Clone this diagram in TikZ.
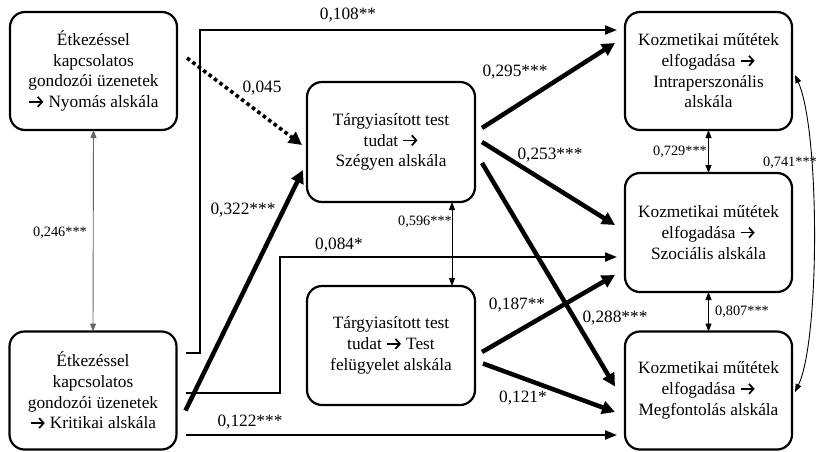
\documentclass[tikz,border=0pt]{standalone}
\usepackage{fontspec}
\setmainfont{Liberation Serif}
\usetikzlibrary{calc,arrows.meta}
\newcommand{\rarr}{\tikz[baseline={(0,-5.8pt)},x=1pt,y=1pt]\draw[line width=1.7pt,line cap=butt,-{Straight Barb[length=4.5pt,width=10pt,line width=1.7pt]}] (0,0) -- (14,0);}
\begin{document}
\begin{tikzpicture}[x=1pt,y=-1pt,
  box/.style={draw,line width=2.2pt,rounded corners=15pt,minimum width=167pt,minimum height=118pt,align=center,inner sep=2pt,outer sep=0pt,font=\fontsize{17.3}{20.7}\selectfont},
  lbl/.style={font=\fontsize{17.3}{20}\selectfont,inner sep=0pt},
  slbl/.style={font=\fontsize{14.3}{16}\selectfont,inner sep=0pt},
  mid/.style={line width=2pt,-{Triangle[length=12pt,width=9pt]}},
  thick path/.style={line width=4.5pt,-{Triangle[length=13pt,width=13pt]}},
  dotpath/.style={line width=3.6pt,dash pattern=on 3.6pt off 3.2pt,-{Triangle[length=13pt,width=13pt]}},
  thin both/.style={line width=0.9pt,{Triangle[length=8pt,width=6pt]}-{Triangle[length=8pt,width=6pt]}},
]
\useasboundingbox (0,0) rectangle (817,451);
\node[box] (A) at (93.5,71) {Étkezéssel\\kapcsolatos\\gondozói üzenetek\\\rarr{} Nyomás alskála};
\node[box] (B) at (93,390.5) {Étkezéssel\\kapcsolatos\\gondozói üzenetek\\\rarr{} Kritikai alskála};
\node[box,minimum width=168pt,minimum height=120pt] (C) at (391,142) {Tárgyiasított test\\tudat \rarr\\Szégyen alskála};
\node[box,minimum width=168pt,minimum height=119pt] (D) at (391,345.5) {Tárgyiasított test\\tudat \rarr{} Test\\felügyelet alskála};
\node[box] (E) at (708.5,71) {Kozmetikai műtétek\\elfogadása \rarr\\Intraperszonális\\alskála};
\node[box,minimum height=119pt] (F) at (708.5,232.5) {Kozmetikai műtétek\\elfogadása \rarr\\Szociális alskála};
\node[box] (G) at (708.5,390.5) {Kozmetikai műtétek\\elfogadása \rarr\\Megfontolás alskála};

% B -> E (0,108**)
\draw[mid] ($(B.east)+(9,-38)$) -| ($(A.east)+(23,-41)$) -- ($(E.west)+(-8,-41)$);
% A -> C dotted
\draw[dotpath] ($(A.east)+(10,-13)$) -- ($(C.west)+(-5,3)$);
% B -> C
\draw[thick path] ($(B.east)+(9,20)$) -- ($(C.west)+(-4,28)$);
% B -> F
\draw[mid] ($(B.east)+(9,2)$) -| ($(F.west)+(-345,24.5)$) -- ($(F.west)+(-8,24.5)$);
% B -> G
\draw[mid] ($(B.east)+(9,44.5)$) -- ($(G.west)+(-8,44.5)$);
% C -> E,F,G
\draw[thick path] ($(C.east)+(7,-14)$) -- ($(E.west)+(-10,-28)$);
\draw[thick path] ($(C.east)+(7,0)$) -- ($(F.west)+(-10,-7.5)$);
\draw[thick path] ($(C.east)+(7,21)$) -- ($(G.west)+(-10,-4)$);
% D -> F,G
\draw[thick path] ($(D.east)+(7,6.5)$) -- ($(F.west)+(-10,42.5)$);
\draw[thick path] ($(D.east)+(8,18)$) -- ($(G.west)+(-10,21.5)$);
% correlations
\draw[thin both,draw=gray!80!black] (A.south) -- (B.north);
\draw[thin both] ($(C.south)+(61,0)$) -- ($(D.north)+(61,0)$);
\draw[thin both] (E.south) -- (F.north);
\draw[thin both] (F.south) -- (G.north);
\draw[thin both] ($(E.east)+(3,4)$) .. controls ($(E.east)+(28,59)$) and ($(G.east)+(28,-50)$) .. ($(G.east)+(3,1.5)$);

% labels
\node[lbl] (l108) at (348,15) {0,108**};
\node[lbl] (l045) at (262,88) {0,045};
\node[lbl] (l322) at (243,210) {0,322***};
\node[lbl] (l084) at (339,245) {0,084*};
\node[lbl] (l122) at (250,422) {0,122***};
\node[lbl] (l295) at (515,72) {0,295***};
\node[lbl] (l253) at (550,155) {0,253***};
\node[lbl] (l288) at (615,318) {0,288***};
\node[lbl] (l187) at (517,305) {0,187**};
\node[lbl] (l121) at (523,398) {0,121*};
\node[slbl] (l246) at (60,233) {0,246***};
\node[slbl] (l596) at (425,222) {0,596***};
\node[slbl] (l729) at (680,152) {0,729***};
\node[slbl] (l807) at (742,312) {0,807***};
\node[slbl] (l741) at (790,163) {0,741***};
\end{tikzpicture}
\end{document}
